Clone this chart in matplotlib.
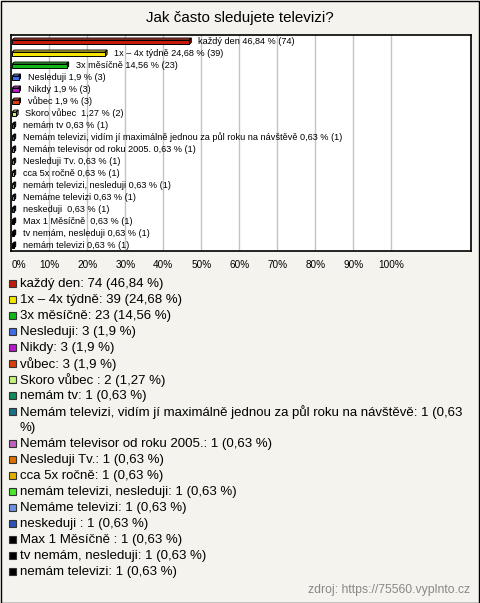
import matplotlib
matplotlib.use("Agg")
import matplotlib.pyplot as plt
from matplotlib.patches import Rectangle, Polygon
import matplotlib.colors as mcolors

# ---------------- data ----------------
title = "Jak často sledujete televizi?"
names = ["každý den", "1x – 4x týdně", "3x měsíčně", "Nesleduji", "Nikdy", "vůbec",
         "Skoro vůbec ", "nemám tv",
         "Nemám televizi, vidím jí maximálně jednou za půl roku na návštěvě",
         "Nemám televisor od roku 2005.", "Nesleduji Tv.", "cca 5x ročně",
         "nemám televizi, nesleduji", "Nemáme televizi", "neskeduji ",
         "Max 1 Měsíčně ", "tv nemám, nesleduji", "nemám televizi"]
counts = [74, 39, 23, 3, 3, 3, 2, 1, 1, 1, 1, 1, 1, 1, 1, 1, 1, 1]
percents = [46.84, 24.68, 14.56, 1.9, 1.9, 1.9, 1.27, 0.63, 0.63, 0.63, 0.63, 0.63,
            0.63, 0.63, 0.63, 0.63, 0.63, 0.63]
colors = ["#c41a0c", "#f7e400", "#10b81a", "#3f6ee6", "#b817cc", "#dc3c0c",
          "#c4f27c", "#128a5c", "#1c6e8a", "#c060c0", "#e07000", "#e0b000",
          "#4ae82c", "#6a92e0", "#2a52b8", "#000000", "#000000", "#000000"]
tick_values = [0, 10, 20, 30, 40, 50, 60, 70, 80, 90, 100]
tick_labels = ["0%", "10%", "20%", "30%", "40%", "50%", "60%", "70%", "80%", "90%", "100%"]
source = "zdroj: https://75560.vyplnto.cz"

W, H = 480, 603
BG = "#f4f3ee"
FONT = ["Liberation Sans", "DejaVu Sans"]
plt.rcParams['font.family'] = FONT

def fmt(p):
    return format(p, 'g').replace('.', ',')

fig = plt.figure(figsize=(W / 100, H / 100), dpi=100)
fig.patch.set_facecolor(BG)

def fx(x):
    return x / W

def fy(y):
    return 1 - y / H

# outer border
fig.add_artist(Rectangle((0.5 / W, 0.5 / H), 1 - 1.5 / W, 1 - 1.5 / H,
                         transform=fig.transFigure, fill=False, ec="#000000", lw=1))

# title
fig.text(fx(240), fy(18), title, ha="center", va="center", fontsize=10.9, color="#000000")

# ---------------- bar chart ----------------
left, right, top, bottom = 11.3, 470.7, 35, 251
px_per_pct = 3.8
ax = fig.add_axes([fx(left), fy(bottom), (right - left) / W, (bottom - top) / H])
ax.set_facecolor("white")
ax.set_xlim(0, (right - left) / px_per_pct)
n = len(names)
ax.set_ylim(n - 0.5, -0.5)
ax.set_yticks([])
ax.set_xticks(tick_values)
ax.set_xticklabels(tick_labels, fontsize=7.2)
ax.get_xticklabels()[0].set_ha("left")
ax.tick_params(axis="x", length=0, pad=6.5)
ax.grid(axis="x", color="#c4c4c4", lw=1)
ax.set_axisbelow(True)
for s in ax.spines.values():
    s.set_color("#000000")
    s.set_linewidth(1.2)

dx = 2.0 / px_per_pct   # depth in % units
dy = 2.0 / 12           # depth in row units
x0 = 0.25
for i, (name, c, p, col) in enumerate(zip(names, counts, percents, colors)):
    t = i - 0.08
    b = i + 0.28
    base = mcolors.to_rgb(col)
    light = tuple(min(1, v * 0.8 + 0.2) for v in base)
    dark = tuple(v * 0.6 for v in base)
    ax.add_patch(Polygon([(x0, t), (p, t), (p + dx, t - dy), (x0 + dx, t - dy)],
                         closed=True, fc=light, ec="#000000", lw=0.7, zorder=3))
    ax.add_patch(Polygon([(p, t), (p + dx, t - dy), (p + dx, b - dy), (p, b)],
                         closed=True, fc=dark, ec="#000000", lw=0.7, zorder=3))
    ax.add_patch(Rectangle((x0, t), p - x0, b - t, fc=col, ec="#000000", lw=0.7, zorder=4))
    ax.text(p + 9 / px_per_pct, i, f"{name} {fmt(p)} % ({c})", fontsize=6.6,
            va="center", ha="left", color="#000000", zorder=5)

# ---------------- legend ----------------
renderer = fig.canvas.get_renderer()
y = 284
step = 16
max_w = 470 - 20
for name, c, p, col in zip(names, counts, percents, colors):
    label = f"{name}: {c} ({fmt(p)} %)"
    # wrap if too wide
    lines = []
    words = label.split(" ")
    cur = ""
    for w_ in words:
        trial = (cur + " " + w_) if cur else w_
        tt = fig.text(0, 0, trial, fontsize=9.5)
        wpx = tt.get_window_extent(renderer).width
        tt.remove()
        if wpx > max_w and cur:
            lines.append(cur)
            cur = w_
        else:
            cur = trial
    lines.append(cur)
    fig.add_artist(Rectangle((fx(9), fy(y + 3)), 7 / W, 7 / H, transform=fig.transFigure,
                             fc=col, ec="#333333", lw=0.8))
    for ln in lines:
        fig.text(fx(20), fy(y), ln, fontsize=9.5, va="center", ha="left", color="#000000")
        y += step

fig.text(fx(470), fy(590), source, fontsize=8.8, ha="right", va="center", color="#888888")

fig.savefig("out.png", dpi=100, facecolor=BG)
